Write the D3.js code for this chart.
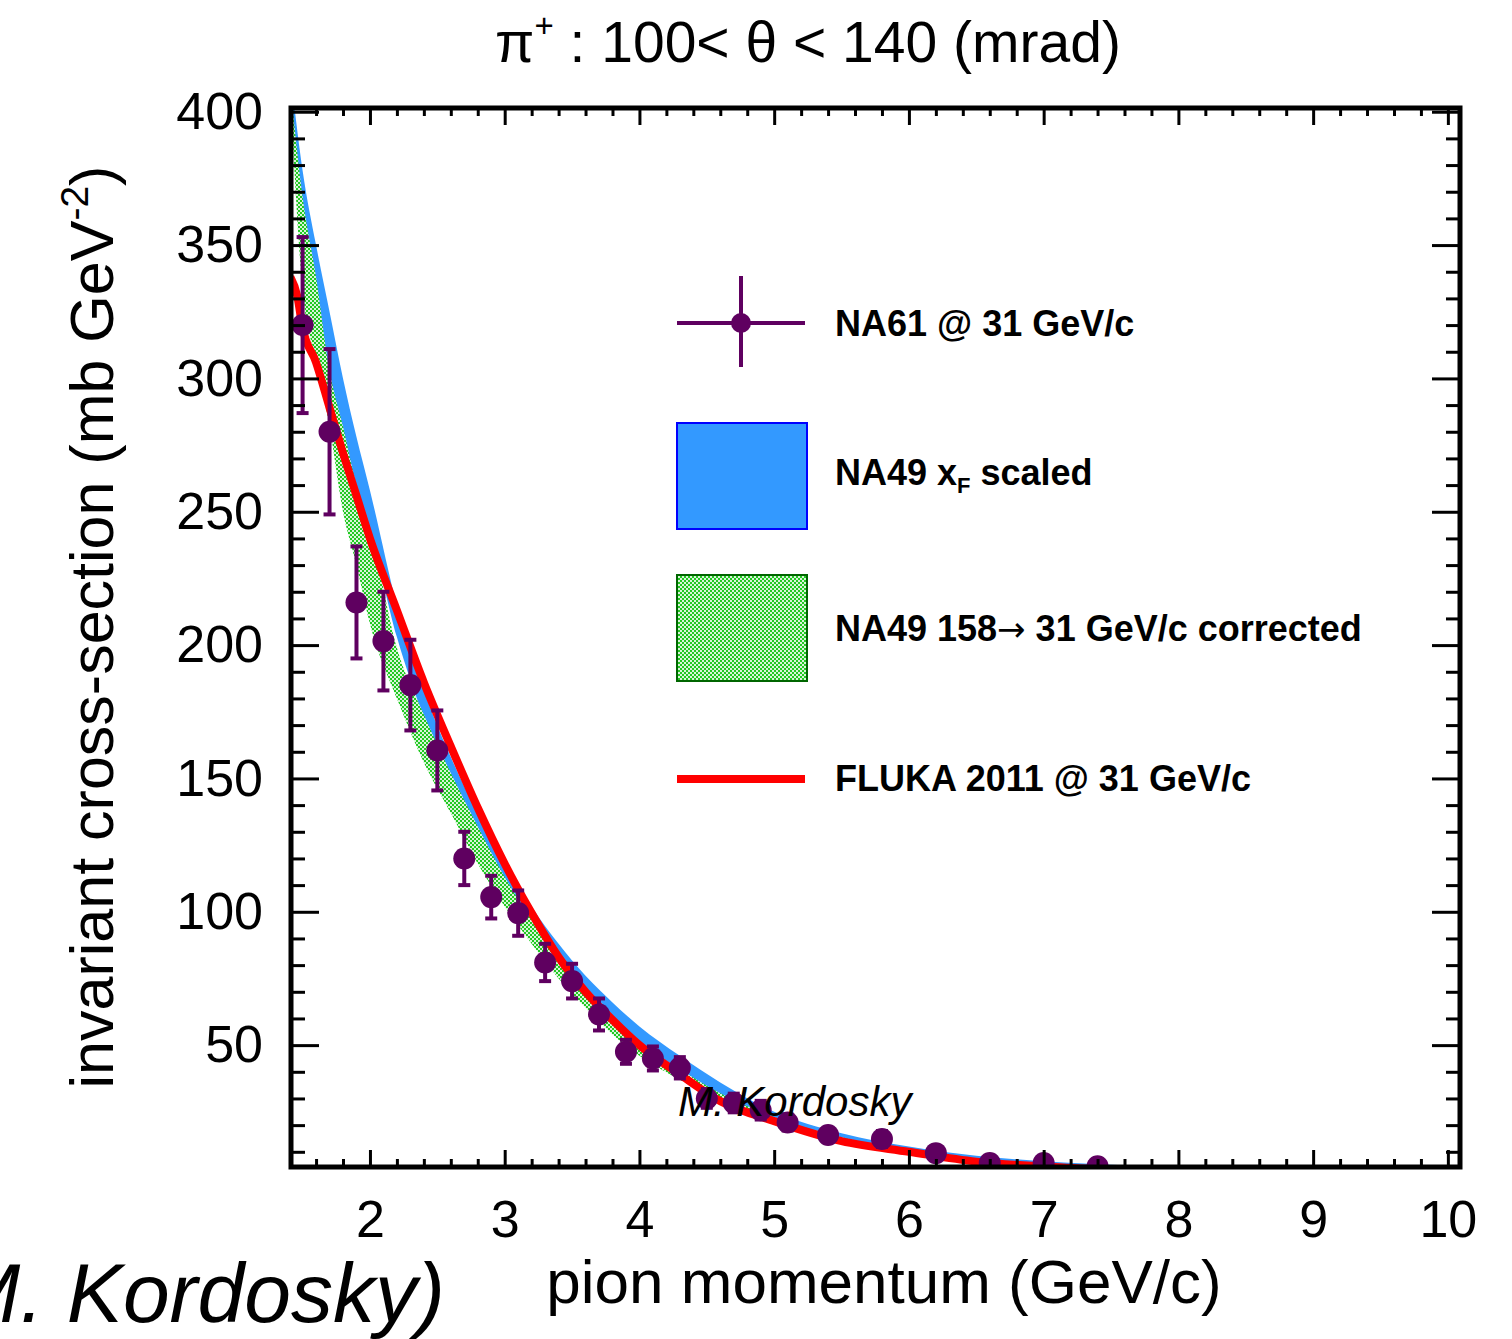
<!DOCTYPE html>
<html>
<head>
<meta charset="utf-8">
<script src="https://cdn.jsdelivr.net/npm/d3@7"></script>
<style>
  body { margin: 0; background: #fff; }
  text { font-family: "Liberation Sans", Arial, sans-serif; }
</style>
</head>
<body>
<div class="chart"></div>
<script>
// NA61 data points (pion momentum, cross-section, error)
var na61P   = [1.5, 1.7, 1.9, 2.1, 2.3, 2.5, 2.7, 2.9, 3.1, 3.3, 3.5, 3.7, 3.9, 4.1, 4.3, 4.5, 4.7, 4.9, 5.1, 5.4, 5.8, 6.2, 6.6, 7.0, 7.4];
var na61Val = [320, 280, 216, 201.5, 185, 160.5, 120, 105.5, 99.5, 81, 74, 61.5, 47.5, 45, 41.5, 30, 28.3, 25.6, 21, 16.3, 14.8, 9.5, 5.8, 5.8, 4.6];
var na61Err = [33, 31, 21, 18.5, 17, 15, 10, 8, 8.5, 7, 6.5, 6, 4.5, 4.5, 4, 3.5, 3.5, 3.5, 3, 2.5, 3, 2.5, 2, 2.5, 2];

// NA49 bands
var bandP   = [1.42, 1.5, 1.6, 1.7, 1.8, 1.9, 2.0, 2.2, 2.4, 2.6, 2.8, 3.0, 3.2, 3.4, 3.6, 3.8, 4.0, 4.3, 4.6, 5.0, 5.5, 6.0, 6.5, 7.0, 7.6];
var blueHi  = [410, 378, 350, 325, 300, 278, 258, 215, 183, 158, 137, 120, 102, 88, 76, 66, 57, 46, 36, 25, 17, 12, 8.5, 6.5, 5];
var blueLo  = [398, 352, 323, 300, 278, 258, 243, 203, 173, 150, 130, 112, 95, 80, 68, 58, 50, 40, 31, 22, 14.5, 10, 7, 5, 4];
var greenHi = [404, 368, 338, 303, 282, 260, 244, 199, 174, 152, 132, 113, 97, 82, 70, 60, 51, 41, 32, 23, 15.5, 10.5, 7.5, 5.5, 4.5];
var greenLo = [396, 333, 307, 282, 250, 230, 208, 180, 156, 137, 118, 102, 88, 75, 64, 54, 46, 37, 29, 21, 14, 9.5, 6.5, 4.5, 3.5];

// FLUKA curve
var flukaP   = [1.41, 1.46, 1.5, 1.6, 1.7, 1.8, 1.9, 2.0, 2.2, 2.4, 2.6, 2.8, 3.0, 3.2, 3.4, 3.6, 3.8, 4.0, 4.3, 4.6, 5.0, 5.5, 6.0, 6.5, 7.0, 7.4];
var flukaVal = [338, 331, 319, 306, 289, 272, 256, 240, 213, 186, 162, 139, 118, 99.5, 83, 70, 59.5, 50, 39, 29, 21.5, 14, 10, 6.3, 4.5, 3.5];

var xTicks = [2, 3, 4, 5, 6, 7, 8, 9, 10];
var yTicks = [50, 100, 150, 200, 250, 300, 350, 400];
var legendLabels = ["NA61 @ 31 GeV/c", "NA49 x", "NA49 158\u2192 31 GeV/c corrected", "FLUKA 2011 @ 31 GeV/c"];

var w = 1512;
var h = 1339;
// plot frame (note: "top" is reserved in browsers)
var pL = 291, pR = 1460, pT = 108, pB = 1167;
var purple = "#5f0060";

var svg = d3.select(".chart")
            .append("svg")
            .attr("width", w)
            .attr("height", h);

var defs = svg.append("defs");
defs.append("clipPath").attr("id", "plotclip")
    .append("rect")
    .attr("x", pL).attr("y", pT)
    .attr("width", pR - pL).attr("height", pB - pT);

// checkered green fill like ROOT hatch style
var pat = defs.append("pattern")
    .attr("id", "greendots")
    .attr("patternUnits", "userSpaceOnUse")
    .attr("width", 4).attr("height", 4);
pat.append("rect").attr("width", 4).attr("height", 4).attr("fill", "#d8f5d8");
pat.append("rect").attr("x", 0).attr("y", 0).attr("width", 2).attr("height", 2).attr("fill", "#22c822");
pat.append("rect").attr("x", 2).attr("y", 2).attr("width", 2).attr("height", 2).attr("fill", "#22c822");

var x = d3.scaleLinear().domain([1.414, 10.09]).range([pL, pR]);
var y = d3.scaleLinear().domain([4.3, 401.4]).range([pB, pT]);

var plot = svg.append("g").attr("clip-path", "url(#plotclip)");

// bands
var blueArea = d3.area()
    .x(function(d, i) { return x(bandP[i]); })
    .y0(function(d, i) { return y(blueLo[i]); })
    .y1(function(d, i) { return y(blueHi[i]); })
    .curve(d3.curveMonotoneX);
var greenArea = d3.area()
    .x(function(d, i) { return x(bandP[i]); })
    .y0(function(d, i) { return y(greenLo[i]); })
    .y1(function(d, i) { return y(greenHi[i]); })
    .curve(d3.curveMonotoneX);

plot.append("path").datum(bandP)
    .attr("d", blueArea)
    .attr("fill", "#3399ff");
plot.append("path").datum(bandP)
    .attr("d", greenArea)
    .attr("fill", "url(#greendots)");

// FLUKA line
var redLine = d3.line()
    .x(function(d, i) { return x(flukaP[i]); })
    .y(function(d, i) { return y(flukaVal[i]); })
    .curve(d3.curveMonotoneX);
plot.append("path").datum(flukaP)
    .attr("d", redLine)
    .attr("fill", "none")
    .attr("stroke", "#ff0000")
    .attr("stroke-width", 8);

// NA61 points
var pts = plot.selectAll(".pt")
    .data(na61P)
    .enter()
    .append("g")
    .attr("class", "pt");
pts.append("line")
    .attr("x1", function(d) { return x(d); })
    .attr("x2", function(d) { return x(d); })
    .attr("y1", function(d, i) { return y(na61Val[i] + na61Err[i]); })
    .attr("y2", function(d, i) { return y(na61Val[i] - na61Err[i]); })
    .attr("stroke", purple).attr("stroke-width", 4);
[1, -1].forEach(function(s) {
  pts.append("line")
    .attr("x1", function(d) { return x(d) - 6; })
    .attr("x2", function(d) { return x(d) + 6; })
    .attr("y1", function(d, i) { return y(na61Val[i] + s * na61Err[i]); })
    .attr("y2", function(d, i) { return y(na61Val[i] + s * na61Err[i]); })
    .attr("stroke", purple).attr("stroke-width", 4);
});
pts.append("circle")
    .attr("cx", function(d) { return x(d); })
    .attr("cy", function(d, i) { return y(na61Val[i]); })
    .attr("r", 11)
    .attr("fill", purple);

// axes (ticks pointing inward)
function styleAxis(g) {
  g.select(".domain").remove();
  g.selectAll("line").attr("stroke", "#000").attr("stroke-width", 3);
  g.selectAll("text").attr("font-size", 52).attr("fill", "#000")
   .style("font-family", "'Liberation Sans', Arial, sans-serif");
}
var xMinor = d3.range(1.6, 10.05, 0.2).filter(function(v) { return Math.abs(v - Math.round(v)) > 0.01; });
var yMinor = d3.range(10, 400, 10).filter(function(v) { return v % 50 != 0; });

svg.append("g").attr("transform", "translate(0," + pB + ")")
   .call(d3.axisBottom(x).tickValues(xTicks).tickSize(-17).tickPadding(33).tickFormat(d3.format("d")))
   .call(styleAxis);
svg.append("g").attr("transform", "translate(0," + pB + ")")
   .call(d3.axisBottom(x).tickValues(xMinor).tickSize(-8).tickFormat(""))
   .call(styleAxis);
svg.append("g").attr("transform", "translate(0," + pT + ")")
   .call(d3.axisTop(x).tickValues(xTicks).tickSize(-17).tickFormat(""))
   .call(styleAxis);
svg.append("g").attr("transform", "translate(0," + pT + ")")
   .call(d3.axisTop(x).tickValues(xMinor).tickSize(-8).tickFormat(""))
   .call(styleAxis);
svg.append("g").attr("transform", "translate(" + pL + ",0)")
   .call(d3.axisLeft(y).tickValues(yTicks).tickSize(-28).tickPadding(28))
   .call(styleAxis);
svg.append("g").attr("transform", "translate(" + pL + ",0)")
   .call(d3.axisLeft(y).tickValues(yMinor).tickSize(-14).tickFormat(""))
   .call(styleAxis);
svg.append("g").attr("transform", "translate(" + pR + ",0)")
   .call(d3.axisRight(y).tickValues(yTicks).tickSize(-28).tickFormat(""))
   .call(styleAxis);
svg.append("g").attr("transform", "translate(" + pR + ",0)")
   .call(d3.axisRight(y).tickValues(yMinor).tickSize(-14).tickFormat(""))
   .call(styleAxis);

// frame
svg.append("rect")
   .attr("x", pL).attr("y", pT)
   .attr("width", pR - pL).attr("height", pB - pT)
   .attr("fill", "none").attr("stroke", "#000").attr("stroke-width", 5);

// legend
var lx = 677, lw = 130, tx = 835;
var leg = svg.append("g");
leg.append("line").attr("x1", lx).attr("x2", lx + 128).attr("y1", 323).attr("y2", 323)
   .attr("stroke", purple).attr("stroke-width", 4);
leg.append("line").attr("x1", 741).attr("x2", 741).attr("y1", 276).attr("y2", 367)
   .attr("stroke", purple).attr("stroke-width", 4);
leg.append("circle").attr("cx", 741).attr("cy", 323).attr("r", 10).attr("fill", purple);
leg.append("rect").attr("x", lx).attr("y", 423).attr("width", lw).attr("height", 106)
   .attr("fill", "#3399ff").attr("stroke", "#0000ff").attr("stroke-width", 2);
leg.append("rect").attr("x", lx).attr("y", 575).attr("width", lw).attr("height", 106)
   .attr("fill", "url(#greendots)").attr("stroke", "#006600").attr("stroke-width", 2);
leg.append("line").attr("x1", lx).attr("x2", lx + 128).attr("y1", 779).attr("y2", 779)
   .attr("stroke", "#ff0000").attr("stroke-width", 8);

var legY = [336, 485, 641, 791];
var lt = leg.selectAll(".lt")
   .data(legendLabels)
   .enter()
   .append("text")
   .attr("class", "lt")
   .attr("x", tx)
   .attr("y", function(d, i) { return legY[i]; })
   .attr("font-size", 36)
   .attr("font-weight", "bold");
// split on the arrow so it can be drawn thin like the reference
lt.each(function(d) {
  var parts = d.split("\u2192");
  var t = d3.select(this);
  t.append("tspan").text(parts[0]);
  if (parts.length > 1) {
    t.append("tspan").attr("font-weight", "normal")
     .style("font-family", "'DejaVu Sans', sans-serif")
     .attr("font-size", 34).text("\u2192");
    t.append("tspan").text(parts[1]);
  }
});
// subscript on second entry
var t2 = lt.filter(function(d, i) { return i == 1; });
t2.append("tspan").attr("font-size", 22).attr("dy", 8).text("F");
t2.append("tspan").attr("dy", -8).text(" scaled");

// watermark inside plot
svg.append("text")
   .attr("x", 678).attr("y", 1116)
   .attr("font-size", 42).attr("font-style", "italic")
   .text("M. Kordosky");

// title
var title = svg.append("text")
   .attr("x", 808).attr("y", 62)
   .attr("text-anchor", "middle")
   .attr("font-size", 57);
title.append("tspan").text("\u03c0");
title.append("tspan").attr("font-size", 33).attr("dy", -25).text("+");
title.append("tspan").attr("dy", 25).text(" : 100< \u03b8 < 140 (mrad)");

// axis titles
svg.append("text")
   .attr("x", 884).attr("y", 1303)
   .attr("text-anchor", "middle")
   .attr("font-size", 62)
   .text("pion momentum (GeV/c)");

var yt = svg.append("text")
   .attr("transform", "translate(113,627) rotate(-90)")
   .attr("text-anchor", "middle")
   .attr("font-size", 61);
yt.append("tspan").text("invariant cross-section (mb GeV");
yt.append("tspan").attr("font-size", 39).attr("dy", -25).text("-2");
yt.append("tspan").attr("dy", 25).text(")");

// cut-off caption bottom left
svg.append("text")
   .attr("x", 445).attr("y", 1322)
   .attr("text-anchor", "end")
   .attr("font-size", 84).attr("font-style", "italic")
   .text("M. Kordosky)");
</script>
</body>
</html>
